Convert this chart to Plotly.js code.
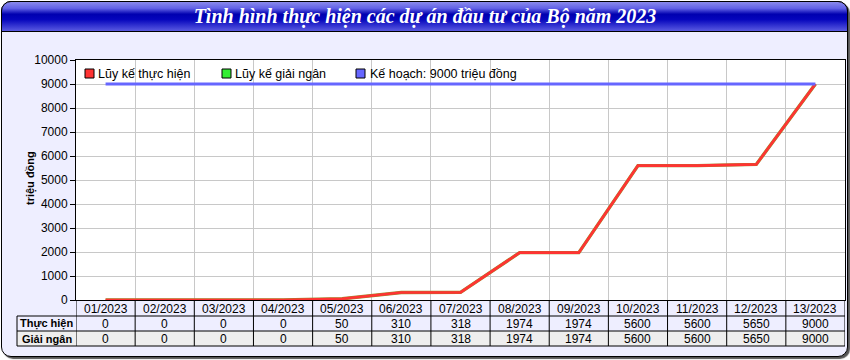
<!DOCTYPE html>
<html>
<head>
<meta charset="utf-8">
<script src="https://cdn.plot.ly/plotly-3.0.1.min.js"></script>
<style>
  html, body { margin: 0; padding: 0; background: #ffffff; }
  #wrap { position: relative; width: 850px; height: 360px; }
  #frame { position: absolute; left: 1px; top: 1px; width: 845px; height: 354px;
           background: #eeeeff; border: 1px solid #000; border-radius: 10px;
           box-shadow: 2px 2px 1px #555; }
  #bar { position: absolute; left: 1px; top: 1px; width: 845px; height: 29px;
         border: 1px solid #000; border-radius: 10px 10px 0 0;
         background: linear-gradient(to bottom, #8a8aec 0%, #6262e6 22%, #0000b0 42%, #0505bc 60%, #3a3ad4 85%, #5a5ae0 100%); }
  #chart { position: absolute; left: 0; top: 0; width: 850px; height: 360px; }
</style>
</head>
<body>
<div id="wrap">
  <div id="frame"></div>
  <div id="bar"></div>
  <div id="chart"></div>
</div>
<script>
const titleText = 'Tình hình thực hiện các dự án đầu tư của Bộ năm 2023';
const months = ['01/2023','02/2023','03/2023','04/2023','05/2023','06/2023','07/2023','08/2023','09/2023','10/2023','11/2023','12/2023','13/2023'];
const thucHien = [0,0,0,0,50,310,318,1974,1974,5600,5600,5650,9000];
const giaiNgan = [0,0,0,0,50,310,318,1974,1974,5600,5600,5650,9000];
const keHoach = [9000,9000,9000,9000,9000,9000,9000,9000,9000,9000,9000,9000,9000];
const seriesNames = ['Lũy kế thực hiện','Lũy kế giải ngân','Kế hoạch: 9000 triệu đồng'];
const seriesColors = ['#ff3333','#33ee33','#6666ff'];
const rowLabels = ['Thực hiện','Giải ngân'];
const yTitle = 'triệu đồng';

// plot geometry in pixels
const L = 76, R = 845, T = 60, B = 300;
const W = 850, H = 360;
const px = x => (x - L) / (R - L);
const py = y => (B - y) / (B - T);

const traces = [
  {x: months, y: giaiNgan, type: 'scatter', mode: 'lines', name: seriesNames[1],
   line: {color: '#9a8a2a', width: 3.4}, showlegend: false, hoverinfo: 'skip'},
  {x: months, y: thucHien, type: 'scatter', mode: 'lines', name: seriesNames[0],
   line: {color: seriesColors[0], width: 2.6}, showlegend: false},
  {x: months, y: keHoach, type: 'scatter', mode: 'lines', name: seriesNames[2],
   line: {color: seriesColors[2], width: 3}, showlegend: false}
];

const shapes = [];
const annotations = [];

// legend
const legPos = [[85, 97], [222, 234], [356, 369]];
seriesNames.forEach((n, i) => {
  shapes.push({type: 'rect', xref: 'paper', yref: 'paper',
    x0: px(legPos[i][0]), x1: px(legPos[i][0] + 9), y0: py(78), y1: py(69),
    fillcolor: seriesColors[i], line: {color: '#000', width: 1}});
  annotations.push({xref: 'paper', yref: 'paper', x: px(legPos[i][1] - 1), y: py(74),
    xanchor: 'left', yanchor: 'middle', showarrow: false, text: n,
    font: {family: 'Liberation Sans, Arial', size: 12.5, color: '#000'}});
});

// y axis title
annotations.push({xref: 'paper', yref: 'paper', x: px(30), y: py(178), xanchor: 'center', yanchor: 'middle',
  showarrow: false, textangle: -90, text: '<b>' + yTitle + '</b>',
  font: {family: 'Liberation Sans, Arial', size: 11, color: '#000'}});

// table
const rows = [[300, 316], [316, 331], [331, 346]];
const rowBg = ['#eeeeff', '#eeeeff', '#eeeeee'];
const labelL = 17;
for (let r = 0; r < 3; r++) {
  const x0 = r === 0 ? L : labelL;
  shapes.push({type: 'rect', xref: 'paper', yref: 'paper', layer: 'below',
    x0: px(x0), x1: px(R), y0: py(rows[r][1]), y1: py(rows[r][0]),
    fillcolor: rowBg[r], line: {width: 0}});
}
[316, 331, 346].forEach(yy => {
  shapes.push({type: 'line', xref: 'paper', yref: 'paper', x0: px(labelL), x1: px(R), y0: py(yy), y1: py(yy), line: {color: '#000', width: 1}});
});
shapes.push({type: 'line', xref: 'paper', yref: 'paper', x0: px(labelL), x1: px(labelL), y0: py(346), y1: py(316), line: {color: '#000', width: 1}});
for (let k = 0; k <= months.length; k++) {
  shapes.push({type: 'line', xref: 'x', yref: 'paper', x0: k - 0.5, x1: k - 0.5,
    y0: py(346), y1: py(300), line: {color: '#000', width: 1}});
}
const tfont = {family: 'Liberation Sans, Arial', size: 12, color: '#000'};
months.forEach((m, i) => {
  annotations.push({xref: 'x', yref: 'paper', x: m, y: py(308.5), showarrow: false,
    text: m, font: tfont, xanchor: 'center', yanchor: 'middle'});
  annotations.push({xref: 'x', yref: 'paper', x: m, y: py(323.5), showarrow: false,
    text: String(thucHien[i]), font: tfont, xanchor: 'center', yanchor: 'middle'});
  annotations.push({xref: 'x', yref: 'paper', x: m, y: py(338.5), showarrow: false,
    text: String(giaiNgan[i]), font: tfont, xanchor: 'center', yanchor: 'middle'});
});
rowLabels.forEach((t, i) => {
  annotations.push({xref: 'paper', yref: 'paper', x: px((labelL + L) / 2), y: py(i === 0 ? 323.5 : 338.5),
    showarrow: false, text: '<b>' + t + '</b>', font: {family: 'Liberation Sans, Arial', size: 11, color: '#000'},
    xanchor: 'center', yanchor: 'middle'});
});

const layout = {
  width: W, height: H,
  margin: {l: L, r: W - R, t: T, b: H - B, autoexpand: false},
  paper_bgcolor: 'rgba(0,0,0,0)',
  plot_bgcolor: '#ffffff',
  title: {text: titleText, x: 0.5, xref: 'container', xanchor: 'center', y: 1 - 16 / H, yref: 'container', yanchor: 'middle',
    font: {family: 'Liberation Serif, Times New Roman', size: 20, color: '#ffffff', style: 'italic', weight: 'bold'}},
  xaxis: {type: 'category', categoryarray: months, range: [-0.5, months.length - 0.5],
    tickson: 'boundaries', showgrid: true, gridcolor: '#c8c8c8', gridwidth: 1,
    showticklabels: false, ticks: '', showline: true, linecolor: '#000', linewidth: 1, mirror: true,
    zeroline: false, fixedrange: true},
  yaxis: {range: [0, 10000], dtick: 1000, tick0: 0, tickformat: 'd', showgrid: true, gridcolor: '#c8c8c8', gridwidth: 1,
    ticks: 'outside', ticklen: 5, tickcolor: '#000', tickwidth: 1,
    showline: true, linecolor: '#000', linewidth: 1, mirror: true, zeroline: false,
    tickfont: {family: 'Liberation Sans, Arial', size: 12, color: '#000'},
    automargin: false, fixedrange: true},
  showlegend: false,
  shapes: shapes,
  annotations: annotations
};

Plotly.newPlot('chart', traces, layout, {displayModeBar: false, staticPlot: true});
</script>
</body>
</html>
